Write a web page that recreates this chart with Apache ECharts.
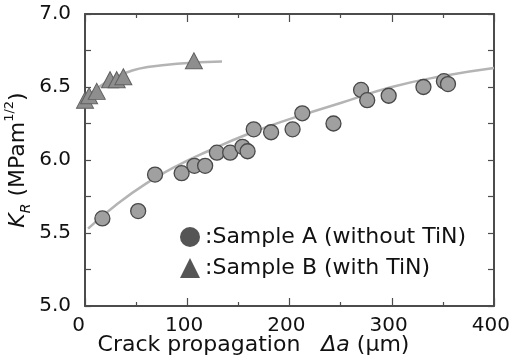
<!DOCTYPE html>
<html>
<head>
<meta charset="utf-8">
<script src="https://cdn.jsdelivr.net/npm/echarts@6/dist/echarts.min.js"></script>
<style>html,body{margin:0;padding:0;background:#fff;}#c{width:510px;height:363px;}</style>
</head>
<body>
<div id="c"></div>
<script>
// ---- data ----
const xTickLabels = ['0', '100', '200', '300', '400'];
const yTickLabels = ['5.0', '5.5', '6.0', '6.5', '7.0'];

const sampleA = [
  [17, 5.60], [52, 5.65], [68.5, 5.90], [94.5, 5.91], [107, 5.96], [117.5, 5.96],
  [129, 6.05], [142, 6.05], [154, 6.09], [159, 6.06], [165, 6.21], [182, 6.19],
  [203, 6.21], [212.5, 6.32], [243, 6.25], [270, 6.48], [276, 6.41], [297, 6.44],
  [331, 6.50], [351, 6.54], [355, 6.52]
];
const sampleB = [
  [0, 6.41], [4, 6.44], [11.5, 6.47], [24.5, 6.55], [31, 6.55], [37.5, 6.57], [106.5, 6.68]
];
const curveA = [
  [3, 5.53], [30, 5.69], [60, 5.84], [90, 5.96], [120, 6.06], [160, 6.18],
  [200, 6.28], [250, 6.39], [300, 6.50], [350, 6.575], [400, 6.63]
];
const curveB = [
  [0, 6.42], [10, 6.48], [20, 6.53], [30, 6.57], [45, 6.61], [60, 6.635], [90, 6.66], [134, 6.675]
];

const nameA = 'Sample A (without TiN)';
const nameB = 'Sample B (with TiN)';

const FONT = 'DejaVu Sans';
const AX = '#4c4c4c';

const chart = echarts.init(document.getElementById('c'), null, {renderer: 'canvas'});

const xBase = {
  type: 'value', min: 0, max: 400, interval: 100,
  axisLine: {show: true, onZero: false, lineStyle: {color: AX, width: 2}},
  axisTick: {show: true, inside: true, length: 8, lineStyle: {color: AX, width: 1.2}},
  minorTick: {show: true, splitNumber: 2, length: 4, lineStyle: {color: AX, width: 1.2}},
  splitLine: {show: false}
};
const yBase = {
  type: 'value', min: 5, max: 7, interval: 0.5,
  axisLine: {show: true, onZero: false, lineStyle: {color: AX, width: 2}},
  axisTick: {show: true, inside: true, length: 6, lineStyle: {color: AX, width: 1.2}},
  minorTick: {show: true, splitNumber: 2, length: 6, lineStyle: {color: AX, width: 1.2}},
  splitLine: {show: false}
};

chart.setOption({
  animation: false,
  backgroundColor: '#fff',
  grid: {left: 85, right: 16, top: 14, bottom: 57, containLabel: false, outerBoundsMode: 'none'},
  legend: {
    orient: 'vertical', left: 175, top: 221,
    itemWidth: 20, itemHeight: 20, itemGap: 9,
    selectedMode: false,
    formatter: n => ':' + n,
    textStyle: {fontFamily: FONT, fontSize: 22, color: '#111'},
    data: [
      {name: nameA, icon: 'circle', itemStyle: {color: '#555', borderWidth: 0}},
      {name: nameB, icon: 'triangle', itemStyle: {color: '#555', borderWidth: 0}}
    ]
  },
  xAxis: [
    Object.assign({}, xBase, {
      position: 'bottom',
      axisLabel: {
        show: true, margin: 10, color: '#111', fontFamily: FONT, fontSize: 20,
        formatter: (v) => {
          const s = xTickLabels[Math.round(v / 100)];
          return v === 0 ? s + '  ' : s + ' ';
        }
      },
      name: '{n|Crack propagation   }{i|Δa}{n| (μm)}',
      nameLocation: 'middle', nameGap: 28, nameMoveOverlap: false,
      nameTextStyle: {
        padding: [0, 72, 0, 0],
        rich: {
          n: {fontFamily: FONT, fontSize: 22, color: '#111'},
          i: {fontFamily: FONT, fontSize: 22, color: '#111', fontStyle: 'italic'}
        }
      }
    }),
    Object.assign({}, xBase, {position: 'top', axisLabel: {show: false}})
  ],
  yAxis: [
    Object.assign({}, yBase, {
      position: 'left',
      axisLabel: {
        show: true, margin: 14, color: '#111', fontFamily: FONT, fontSize: 20,
        formatter: (v) => yTickLabels[Math.round((v - 5) / 0.5)]
      },
      name: '{k|K}{s|R}{n| (MPam}{p|1/2}{n|)}',
      nameLocation: 'middle', nameGap: 52, nameRotate: 90, nameMoveOverlap: false,
      nameTextStyle: {
        rich: {
          k: {fontFamily: FONT, fontSize: 22, fontStyle: 'italic', color: '#111', lineHeight: 30, verticalAlign: 'middle'},
          s: {fontFamily: FONT, fontSize: 14, fontStyle: 'italic', color: '#111', lineHeight: 14, verticalAlign: 'bottom'},
          n: {fontFamily: FONT, fontSize: 22, color: '#111', lineHeight: 30, verticalAlign: 'middle'},
          p: {fontFamily: FONT, fontSize: 13, color: '#111', lineHeight: 13, verticalAlign: 'top'}
        }
      }
    }),
    Object.assign({}, yBase, {position: 'right', axisLabel: {show: false}})
  ],
  series: [
    {
      type: 'line', data: curveA, smooth: true, showSymbol: false, silent: true,
      lineStyle: {color: '#b4b4b4', width: 2.5}, z: 1
    },
    {
      type: 'line', data: curveB, smooth: true, showSymbol: false, silent: true,
      lineStyle: {color: '#b4b4b4', width: 2.5}, z: 1
    },
    {
      name: nameA, type: 'scatter', data: sampleA, symbol: 'circle', symbolSize: 15,
      itemStyle: {color: '#a0a0a0', borderColor: '#484848', borderWidth: 1.3, opacity: 1}, z: 3
    },
    {
      name: nameB, type: 'scatter', data: sampleB, symbol: 'triangle', symbolSize: [17, 16],
      itemStyle: {color: '#8e8e8e', borderColor: '#606060', borderWidth: 1, opacity: 1}, z: 3
    }
  ]
});
</script>
</body>
</html>
